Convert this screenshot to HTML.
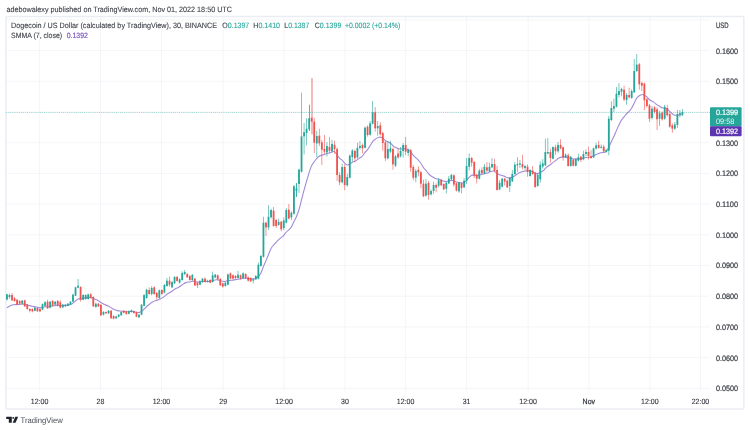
<!DOCTYPE html>
<html><head><meta charset="utf-8"><title>DOGEUSD</title>
<style>
html,body{margin:0;padding:0;background:#fff;}
body{width:750px;height:430px;overflow:hidden;font-family:"Liberation Sans",sans-serif;}
svg{display:block;font-family:"Liberation Sans",sans-serif;will-change:transform;text-rendering:geometricPrecision;}
</style></head><body>
<svg width="750" height="430" viewBox="0 0 750 430">
<rect width="750" height="430" fill="#ffffff"/>
<text x="6.4" y="11.6" font-size="7.7" fill="#3a3d45" stroke="#3a3d45" stroke-width="0.1" textLength="225.6" lengthAdjust="spacingAndGlyphs">adebowalexy published on TradingView.com, Nov 01, 2022 18:50 UTC</text>
<g stroke="#f1f2f7" stroke-width="0.75"><line x1="6" x2="709.5" y1="388.3" y2="388.3"/><line x1="6" x2="709.5" y1="357.6" y2="357.6"/><line x1="6" x2="709.5" y1="326.9" y2="326.9"/><line x1="6" x2="709.5" y1="296.2" y2="296.2"/><line x1="6" x2="709.5" y1="265.5" y2="265.5"/><line x1="6" x2="709.5" y1="234.8" y2="234.8"/><line x1="6" x2="709.5" y1="204.1" y2="204.1"/><line x1="6" x2="709.5" y1="173.4" y2="173.4"/><line x1="6" x2="709.5" y1="142.7" y2="142.7"/><line x1="6" x2="709.5" y1="112.0" y2="112.0"/><line x1="6" x2="709.5" y1="81.3" y2="81.3"/><line x1="6" x2="709.5" y1="50.6" y2="50.6"/><line x1="6" x2="709.5" y1="19.9" y2="19.9"/><line x1="39.6" x2="39.6" y1="16.5" y2="391"/><line x1="100.5" x2="100.5" y1="16.5" y2="391"/><line x1="161.5" x2="161.5" y1="16.5" y2="391"/><line x1="223.2" x2="223.2" y1="16.5" y2="391"/><line x1="284.1" x2="284.1" y1="16.5" y2="391"/><line x1="345.0" x2="345.0" y1="16.5" y2="391"/><line x1="405.6" x2="405.6" y1="16.5" y2="391"/><line x1="466.6" x2="466.6" y1="16.5" y2="391"/><line x1="528.1" x2="528.1" y1="16.5" y2="391"/><line x1="588.9" x2="588.9" y1="16.5" y2="391"/><line x1="649.9" x2="649.9" y1="16.5" y2="391"/><line x1="700.5" x2="700.5" y1="16.5" y2="391"/></g>
<rect x="6.0" y="16.5" width="737.9" height="392.45" rx="1.2" fill="none" stroke="#ebedf5" stroke-width="1.5"/>
<g font-size="7.7" fill="#3a3d45" stroke="#3a3d45" stroke-width="0.1">
<text x="11.1" y="28" textLength="206" lengthAdjust="spacingAndGlyphs">Dogecoin / US Dollar (calculated by TradingView), 30, BINANCE</text>
<text x="222.3" y="28" textLength="27" lengthAdjust="spacingAndGlyphs">O<tspan fill="#26a69a" stroke="#26a69a">0.1397</tspan></text>
<text x="253.3" y="28" textLength="26.7" lengthAdjust="spacingAndGlyphs">H<tspan fill="#26a69a" stroke="#26a69a">0.1410</tspan></text>
<text x="284.3" y="28" textLength="25" lengthAdjust="spacingAndGlyphs">L<tspan fill="#26a69a" stroke="#26a69a">0.1387</tspan></text>
<text x="314.8" y="28" textLength="26.5" lengthAdjust="spacingAndGlyphs">C<tspan fill="#26a69a" stroke="#26a69a">0.1399</tspan></text>
<text x="345" y="28" fill="#26a69a" stroke="#26a69a" textLength="55.2" lengthAdjust="spacingAndGlyphs">+0.0002 (+0.14%)</text>
<text x="11.1" y="38.4" textLength="51" lengthAdjust="spacingAndGlyphs">SMMA (7, close)</text>
<text x="66.7" y="38.4" fill="#7e57c2" stroke="#7e57c2" stroke-width="0.2" textLength="21.2" lengthAdjust="spacingAndGlyphs">0.1392</text>
</g>
<path d="M7.0,307.8 Q9.5,305.9 10.8,305.5 Q12.0,305.1 13.3,304.8 Q14.6,304.5 15.8,304.6 Q17.1,304.6 18.4,304.5 Q19.6,304.4 20.9,304.2 Q22.2,303.9 23.5,304.1 Q24.7,304.2 26.0,304.6 Q27.3,304.9 28.5,305.3 Q29.8,305.7 31.1,306.1 Q32.3,306.5 33.6,306.6 Q34.9,306.7 36.2,307.0 Q37.4,307.3 38.7,307.6 Q40.0,307.9 41.2,307.6 Q42.5,307.4 43.8,307.0 Q45.0,306.6 46.3,306.8 Q47.6,306.9 48.9,306.5 Q50.1,306.1 51.4,306.1 Q52.7,306.1 53.9,305.8 Q55.2,305.4 56.5,305.4 Q57.7,305.4 59.0,305.5 Q60.3,305.7 61.5,305.6 Q62.8,305.5 64.1,305.5 Q65.4,305.4 66.6,305.3 Q67.9,305.2 69.2,304.9 Q70.4,304.7 71.7,304.0 Q73.0,303.2 74.2,302.1 Q75.5,301.0 76.8,299.9 Q78.1,298.8 79.3,298.8 Q80.6,298.9 81.9,298.6 Q83.1,298.3 84.4,298.1 Q85.7,297.9 86.9,297.6 Q88.2,297.4 89.5,297.4 Q90.8,297.4 92.0,298.0 Q93.3,298.7 94.6,299.0 Q95.8,299.4 97.1,299.9 Q98.4,300.4 99.6,301.5 Q100.9,302.5 102.2,303.2 Q103.5,303.9 104.7,304.5 Q106.0,305.2 107.3,305.6 Q108.5,306.0 109.8,306.9 Q111.1,307.7 112.3,308.5 Q113.6,309.3 114.9,309.8 Q116.1,310.3 117.4,310.6 Q118.7,310.9 120.0,311.0 Q121.2,311.1 122.5,311.2 Q123.8,311.3 125.0,311.5 Q126.3,311.7 127.6,311.7 Q128.8,311.6 130.1,311.5 Q131.4,311.4 132.7,311.5 Q133.9,311.6 135.2,312.0 Q136.5,312.4 137.7,312.5 Q139.0,312.7 140.3,312.1 Q141.5,311.5 142.8,310.4 Q144.1,309.2 145.4,307.8 Q146.6,306.4 147.9,305.5 Q149.2,304.6 150.4,303.4 Q151.7,302.3 153.0,301.7 Q154.2,301.1 155.5,300.8 Q156.8,300.5 158.1,299.8 Q159.3,299.1 160.6,298.7 Q161.9,298.3 163.1,297.4 Q164.4,296.4 165.7,295.3 Q166.9,294.2 168.2,293.5 Q169.5,292.8 170.7,292.0 Q172.0,291.3 173.3,290.3 Q174.6,289.2 175.8,288.6 Q177.1,288.0 178.4,287.4 Q179.6,286.8 180.9,285.8 Q182.2,284.8 183.4,283.9 Q184.7,283.0 186.0,282.6 Q187.3,282.2 188.5,282.0 Q189.8,281.9 191.1,281.4 Q192.3,280.9 193.6,281.2 Q194.9,281.5 196.1,281.8 Q197.4,282.1 198.7,282.0 Q200.0,281.9 201.2,281.7 Q202.5,281.5 203.8,281.5 Q205.0,281.5 206.3,281.5 Q207.6,281.4 208.8,281.5 Q210.1,281.6 211.4,281.1 Q212.6,280.7 213.9,280.3 Q215.2,279.8 216.5,279.8 Q217.7,279.8 219.0,280.2 Q220.3,280.6 221.5,281.0 Q222.8,281.4 224.1,281.5 Q225.3,281.6 226.6,281.1 Q227.9,280.6 229.2,280.4 Q230.4,280.3 231.7,280.2 Q233.0,280.1 234.2,279.9 Q235.5,279.8 236.8,279.4 Q238.0,279.0 239.3,279.0 Q240.6,279.0 241.9,278.6 Q243.1,278.2 244.4,278.2 Q245.7,278.2 246.9,278.3 Q248.2,278.5 249.5,278.7 Q250.7,278.9 252.0,278.9 Q253.3,279.0 254.6,278.8 Q255.8,278.6 257.1,277.6 Q258.4,276.6 259.6,275.1 Q260.9,273.6 262.2,270.0 Q263.4,266.4 264.7,263.6 Q266.0,260.8 267.2,257.6 Q268.5,254.5 269.8,251.3 Q271.1,248.1 272.3,246.5 Q273.6,245.0 274.9,243.6 Q276.1,242.3 277.4,240.8 Q278.7,239.4 279.9,238.6 Q281.2,237.9 282.5,236.7 Q283.8,235.4 285.0,233.6 Q286.3,231.8 287.6,230.9 Q288.8,229.9 290.1,228.7 Q291.4,227.5 292.6,224.5 Q293.9,221.6 295.2,219.2 Q296.5,216.8 297.7,213.5 Q299.0,210.1 300.3,204.8 Q301.5,199.6 302.8,194.8 Q304.1,189.9 305.3,185.6 Q306.6,181.2 307.9,176.7 Q309.2,172.2 310.4,168.6 Q311.7,165.0 313.0,163.4 Q314.2,161.8 315.5,160.0 Q316.8,158.1 318.0,157.1 Q319.3,156.0 320.6,155.6 Q321.8,155.1 323.1,154.9 Q324.4,154.6 325.7,154.0 Q326.9,153.4 328.2,153.2 Q329.5,153.0 330.7,152.4 Q332.0,151.7 333.3,151.5 Q334.5,151.3 335.8,153.0 Q337.1,154.7 338.4,156.7 Q339.6,158.7 340.9,159.3 Q342.2,159.9 343.4,161.7 Q344.7,163.4 346.0,164.4 Q347.2,165.4 348.5,164.7 Q349.8,164.0 351.1,163.0 Q352.3,162.1 353.6,161.8 Q354.9,161.5 356.1,160.6 Q357.4,159.6 358.7,158.6 Q359.9,157.6 361.2,157.0 Q362.5,156.3 363.7,154.2 Q365.0,152.2 366.3,151.0 Q367.6,149.7 368.8,147.9 Q370.1,146.0 371.4,143.6 Q372.6,141.2 373.9,140.2 Q375.2,139.3 376.4,138.4 Q377.7,137.4 379.0,137.2 Q380.3,137.0 381.5,137.4 Q382.8,137.8 384.1,139.3 Q385.3,140.8 386.6,141.3 Q387.9,141.9 389.1,142.4 Q390.4,142.8 391.7,144.4 Q393.0,145.9 394.2,146.7 Q395.5,147.4 396.8,148.1 Q398.0,148.8 399.3,149.0 Q400.6,149.1 401.8,148.9 Q403.1,148.6 404.4,148.8 Q405.7,149.0 406.9,149.1 Q408.2,149.1 409.5,150.5 Q410.7,151.8 412.0,153.6 Q413.3,155.5 414.5,156.6 Q415.8,157.7 417.1,158.8 Q418.3,159.8 419.6,161.5 Q420.9,163.2 422.2,165.6 Q423.4,167.9 424.7,169.1 Q426.0,170.2 427.2,172.0 Q428.5,173.7 429.8,175.0 Q431.0,176.2 432.3,176.8 Q433.6,177.5 434.9,178.2 Q436.1,178.9 437.4,179.0 Q438.7,179.1 439.9,179.6 Q441.2,180.0 442.5,180.7 Q443.7,181.3 445.0,181.4 Q446.3,181.5 447.6,181.3 Q448.8,181.1 450.1,180.7 Q451.4,180.2 452.6,180.6 Q453.9,180.9 455.2,181.6 Q456.4,182.3 457.7,182.3 Q459.0,182.3 460.3,182.7 Q461.5,183.1 462.8,183.0 Q464.1,182.8 465.3,181.6 Q466.6,180.4 467.9,178.8 Q469.1,177.2 470.4,176.2 Q471.7,175.1 472.9,175.1 Q474.2,175.1 475.5,175.4 Q476.8,175.6 478.0,175.3 Q479.3,174.9 480.6,174.8 Q481.8,174.7 483.1,174.1 Q484.4,173.6 485.6,173.4 Q486.9,173.1 488.2,172.7 Q489.5,172.2 490.7,171.6 Q492.0,171.0 493.3,171.0 Q494.5,171.0 495.8,172.3 Q497.1,173.7 498.3,174.3 Q499.6,175.0 500.9,175.2 Q502.2,175.5 503.4,175.9 Q504.7,176.3 506.0,177.1 Q507.2,177.9 508.5,177.9 Q509.8,177.9 511.0,177.6 Q512.3,177.4 513.6,176.5 Q514.9,175.6 516.1,174.7 Q517.4,173.9 518.7,173.1 Q519.9,172.4 521.2,172.0 Q522.5,171.7 523.7,171.3 Q525.0,170.9 526.3,170.9 Q527.5,171.0 528.8,170.9 Q530.1,170.9 531.4,171.1 Q532.6,171.3 533.9,172.4 Q535.2,173.6 536.4,173.6 Q537.7,173.7 539.0,173.1 Q540.2,172.4 541.5,171.8 Q542.8,171.1 544.1,169.8 Q545.3,168.4 546.6,167.2 Q547.9,166.1 549.1,165.5 Q550.4,164.9 551.7,163.6 Q552.9,162.4 554.2,161.6 Q555.5,160.8 556.8,159.7 Q558.0,158.5 559.3,157.8 Q560.6,157.1 561.8,157.1 Q563.1,157.1 564.4,156.9 Q565.6,156.8 566.9,157.4 Q568.2,158.1 569.4,158.0 Q570.7,157.9 572.0,158.4 Q573.3,159.0 574.5,159.0 Q575.8,159.0 577.1,158.9 Q578.3,158.8 579.6,158.9 Q580.9,158.9 582.1,158.6 Q583.4,158.2 584.7,157.8 Q586.0,157.3 587.2,157.3 Q588.5,157.2 589.8,157.2 Q591.0,157.3 592.3,156.6 Q593.6,156.0 594.8,155.2 Q596.1,154.5 597.4,154.0 Q598.7,153.6 599.9,153.1 Q601.2,152.6 602.5,152.5 Q603.7,152.4 605.0,152.2 Q606.3,152.1 607.5,149.7 Q608.8,147.3 610.1,144.5 Q611.4,141.7 612.6,139.1 Q613.9,136.6 615.2,133.5 Q616.4,130.5 617.7,127.6 Q619.0,124.8 620.2,122.3 Q621.5,119.7 622.8,118.3 Q624.0,116.8 625.3,115.3 Q626.6,113.7 627.9,112.5 Q629.1,111.4 630.4,109.9 Q631.7,108.4 632.9,105.8 Q634.2,103.1 635.5,100.4 Q636.7,97.6 638.0,96.7 Q639.3,95.7 640.6,95.0 Q641.8,94.3 643.1,94.7 Q644.4,95.1 645.6,95.9 Q646.9,96.7 648.2,98.3 Q649.4,99.8 650.7,100.5 Q652.0,101.1 653.3,101.9 Q654.5,102.7 655.8,103.8 Q657.1,105.0 658.3,105.6 Q659.6,106.2 660.9,107.2 Q662.1,108.1 663.4,108.0 Q664.7,107.9 666.0,108.4 Q667.2,108.9 668.5,110.2 Q669.8,111.5 671.0,112.7 Q672.3,113.9 673.6,114.7 Q674.8,115.4 676.1,115.3 Q677.4,115.2 678.6,115.1 Q679.9,114.9 681.2,114.7 L682.5,114.5" fill="none" stroke="#a08ad8" stroke-width="1.1" stroke-linejoin="round"/>
<g><rect x="6.55" y="293.7" width="0.8" height="6.7" fill="#26a69a" opacity="0.75"/><rect x="9.09" y="293.7" width="0.8" height="5.1" fill="#26a69a" opacity="0.75"/><rect x="11.63" y="293.0" width="0.8" height="8.0" fill="#ef5350" opacity="0.75"/><rect x="14.17" y="297.0" width="0.8" height="4.7" fill="#ef5350" opacity="0.75"/><rect x="16.71" y="299.0" width="0.8" height="6.1" fill="#ef5350" opacity="0.75"/><rect x="19.25" y="300.1" width="0.8" height="4.3" fill="#ef5350" opacity="0.75"/><rect x="21.79" y="300.1" width="0.8" height="4.3" fill="#26a69a" opacity="0.75"/><rect x="24.33" y="299.8" width="0.8" height="7.2" fill="#ef5350" opacity="0.75"/><rect x="26.87" y="304.1" width="0.8" height="5.6" fill="#ef5350" opacity="0.75"/><rect x="29.41" y="308.1" width="0.8" height="4.3" fill="#ef5350" opacity="0.75"/><rect x="31.95" y="308.3" width="0.8" height="4.0" fill="#ef5350" opacity="0.75"/><rect x="34.48" y="307.0" width="0.8" height="4.3" fill="#26a69a" opacity="0.75"/><rect x="37.02" y="307.5" width="0.8" height="4.3" fill="#ef5350" opacity="0.75"/><rect x="39.56" y="308.3" width="0.8" height="3.7" fill="#ef5350" opacity="0.75"/><rect x="42.10" y="303.5" width="0.8" height="6.7" fill="#26a69a" opacity="0.75"/><rect x="44.64" y="301.0" width="0.8" height="5.5" fill="#26a69a" opacity="0.75"/><rect x="47.18" y="299.7" width="0.8" height="9.2" fill="#ef5350" opacity="0.75"/><rect x="49.72" y="301.0" width="0.8" height="7.3" fill="#26a69a" opacity="0.75"/><rect x="52.26" y="300.1" width="0.8" height="6.3" fill="#ef5350" opacity="0.75"/><rect x="54.80" y="301.1" width="0.8" height="4.3" fill="#26a69a" opacity="0.75"/><rect x="57.34" y="300.1" width="0.8" height="6.3" fill="#ef5350" opacity="0.75"/><rect x="59.88" y="300.3" width="0.8" height="8.0" fill="#ef5350" opacity="0.75"/><rect x="62.42" y="304.1" width="0.8" height="4.3" fill="#26a69a" opacity="0.75"/><rect x="64.96" y="304.1" width="0.8" height="2.9" fill="#26a69a" opacity="0.75"/><rect x="67.50" y="303.0" width="0.8" height="3.2" fill="#26a69a" opacity="0.75"/><rect x="70.04" y="301.1" width="0.8" height="4.0" fill="#26a69a" opacity="0.75"/><rect x="72.58" y="293.7" width="0.8" height="8.5" fill="#26a69a" opacity="0.75"/><rect x="75.12" y="286.7" width="0.8" height="9.3" fill="#26a69a" opacity="0.75"/><rect x="77.66" y="279.0" width="0.8" height="9.3" fill="#26a69a" opacity="0.75"/><rect x="80.20" y="286.3" width="0.8" height="15.3" fill="#ef5350" opacity="0.75"/><rect x="82.73" y="294.3" width="0.8" height="6.0" fill="#26a69a" opacity="0.75"/><rect x="85.27" y="294.3" width="0.8" height="5.5" fill="#26a69a" opacity="0.75"/><rect x="87.81" y="293.7" width="0.8" height="6.0" fill="#26a69a" opacity="0.75"/><rect x="90.35" y="293.0" width="0.8" height="5.3" fill="#ef5350" opacity="0.75"/><rect x="92.89" y="296.3" width="0.8" height="10.7" fill="#ef5350" opacity="0.75"/><rect x="95.43" y="302.7" width="0.8" height="4.9" fill="#26a69a" opacity="0.75"/><rect x="97.97" y="303.0" width="0.8" height="4.0" fill="#ef5350" opacity="0.75"/><rect x="100.51" y="304.0" width="0.8" height="12.0" fill="#ef5350" opacity="0.75"/><rect x="103.05" y="311.1" width="0.8" height="4.3" fill="#26a69a" opacity="0.75"/><rect x="105.59" y="311.3" width="0.8" height="2.7" fill="#ef5350" opacity="0.75"/><rect x="108.13" y="310.0" width="0.8" height="4.0" fill="#26a69a" opacity="0.75"/><rect x="110.67" y="310.0" width="0.8" height="8.8" fill="#ef5350" opacity="0.75"/><rect x="113.21" y="315.3" width="0.8" height="4.0" fill="#ef5350" opacity="0.75"/><rect x="115.75" y="315.7" width="0.8" height="3.1" fill="#26a69a" opacity="0.75"/><rect x="118.29" y="314.0" width="0.8" height="3.3" fill="#26a69a" opacity="0.75"/><rect x="120.83" y="311.3" width="0.8" height="4.5" fill="#26a69a" opacity="0.75"/><rect x="123.37" y="310.0" width="0.8" height="3.5" fill="#ef5350" opacity="0.75"/><rect x="125.91" y="310.8" width="0.8" height="4.0" fill="#ef5350" opacity="0.75"/><rect x="128.45" y="310.4" width="0.8" height="3.9" fill="#26a69a" opacity="0.75"/><rect x="130.99" y="309.5" width="0.8" height="3.2" fill="#26a69a" opacity="0.75"/><rect x="133.52" y="310.4" width="0.8" height="3.3" fill="#ef5350" opacity="0.75"/><rect x="136.06" y="311.6" width="0.8" height="5.7" fill="#ef5350" opacity="0.75"/><rect x="138.60" y="313.7" width="0.8" height="4.3" fill="#26a69a" opacity="0.75"/><rect x="141.14" y="304.0" width="0.8" height="11.3" fill="#26a69a" opacity="0.75"/><rect x="143.68" y="294.0" width="0.8" height="12.3" fill="#26a69a" opacity="0.75"/><rect x="146.22" y="288.7" width="0.8" height="10.0" fill="#26a69a" opacity="0.75"/><rect x="148.76" y="287.3" width="0.8" height="7.5" fill="#ef5350" opacity="0.75"/><rect x="151.30" y="286.0" width="0.8" height="9.3" fill="#26a69a" opacity="0.75"/><rect x="153.84" y="286.3" width="0.8" height="8.5" fill="#ef5350" opacity="0.75"/><rect x="156.38" y="292.0" width="0.8" height="7.6" fill="#ef5350" opacity="0.75"/><rect x="158.92" y="289.5" width="0.8" height="9.2" fill="#26a69a" opacity="0.75"/><rect x="161.46" y="289.2" width="0.8" height="5.6" fill="#ef5350" opacity="0.75"/><rect x="164.00" y="284.0" width="0.8" height="9.3" fill="#26a69a" opacity="0.75"/><rect x="166.54" y="278.0" width="0.8" height="8.8" fill="#26a69a" opacity="0.75"/><rect x="169.08" y="276.7" width="0.8" height="10.0" fill="#ef5350" opacity="0.75"/><rect x="171.62" y="280.9" width="0.8" height="7.2" fill="#26a69a" opacity="0.75"/><rect x="174.16" y="276.1" width="0.8" height="7.9" fill="#26a69a" opacity="0.75"/><rect x="176.70" y="276.1" width="0.8" height="5.6" fill="#ef5350" opacity="0.75"/><rect x="179.24" y="278.3" width="0.8" height="5.3" fill="#26a69a" opacity="0.75"/><rect x="181.78" y="271.3" width="0.8" height="9.3" fill="#26a69a" opacity="0.75"/><rect x="184.31" y="270.0" width="0.8" height="5.3" fill="#26a69a" opacity="0.75"/><rect x="186.85" y="273.1" width="0.8" height="4.9" fill="#ef5350" opacity="0.75"/><rect x="189.39" y="274.9" width="0.8" height="5.7" fill="#ef5350" opacity="0.75"/><rect x="191.93" y="274.0" width="0.8" height="6.7" fill="#26a69a" opacity="0.75"/><rect x="194.47" y="277.9" width="0.8" height="8.1" fill="#ef5350" opacity="0.75"/><rect x="197.01" y="281.9" width="0.8" height="6.1" fill="#ef5350" opacity="0.75"/><rect x="199.55" y="280.3" width="0.8" height="5.1" fill="#26a69a" opacity="0.75"/><rect x="202.09" y="277.9" width="0.8" height="4.8" fill="#26a69a" opacity="0.75"/><rect x="204.63" y="277.3" width="0.8" height="5.3" fill="#ef5350" opacity="0.75"/><rect x="207.17" y="279.7" width="0.8" height="2.9" fill="#26a69a" opacity="0.75"/><rect x="209.71" y="279.2" width="0.8" height="4.1" fill="#ef5350" opacity="0.75"/><rect x="212.25" y="271.6" width="0.8" height="11.1" fill="#26a69a" opacity="0.75"/><rect x="214.79" y="273.9" width="0.8" height="4.3" fill="#26a69a" opacity="0.75"/><rect x="217.33" y="274.4" width="0.8" height="5.6" fill="#ef5350" opacity="0.75"/><rect x="219.87" y="278.1" width="0.8" height="7.9" fill="#ef5350" opacity="0.75"/><rect x="222.41" y="282.7" width="0.8" height="4.8" fill="#ef5350" opacity="0.75"/><rect x="224.95" y="281.9" width="0.8" height="4.8" fill="#26a69a" opacity="0.75"/><rect x="227.49" y="273.6" width="0.8" height="11.7" fill="#26a69a" opacity="0.75"/><rect x="230.03" y="272.5" width="0.8" height="6.8" fill="#ef5350" opacity="0.75"/><rect x="232.57" y="274.4" width="0.8" height="4.9" fill="#ef5350" opacity="0.75"/><rect x="235.10" y="275.2" width="0.8" height="3.7" fill="#ef5350" opacity="0.75"/><rect x="237.64" y="270.9" width="0.8" height="7.7" fill="#26a69a" opacity="0.75"/><rect x="240.18" y="274.4" width="0.8" height="5.1" fill="#ef5350" opacity="0.75"/><rect x="242.72" y="272.4" width="0.8" height="6.3" fill="#26a69a" opacity="0.75"/><rect x="245.26" y="273.1" width="0.8" height="5.9" fill="#ef5350" opacity="0.75"/><rect x="247.80" y="276.5" width="0.8" height="5.1" fill="#ef5350" opacity="0.75"/><rect x="250.34" y="277.3" width="0.8" height="4.8" fill="#ef5350" opacity="0.75"/><rect x="252.88" y="278.4" width="0.8" height="4.9" fill="#26a69a" opacity="0.75"/><rect x="255.42" y="274.9" width="0.8" height="5.1" fill="#26a69a" opacity="0.75"/><rect x="257.96" y="262.7" width="0.8" height="16.7" fill="#26a69a" opacity="0.75"/><rect x="260.50" y="254.9" width="0.8" height="11.7" fill="#26a69a" opacity="0.75"/><rect x="263.04" y="216.7" width="0.8" height="40.8" fill="#26a69a" opacity="0.75"/><rect x="265.58" y="221.7" width="0.8" height="14.3" fill="#ef5350" opacity="0.75"/><rect x="268.12" y="205.3" width="0.8" height="24.7" fill="#26a69a" opacity="0.75"/><rect x="270.66" y="208.7" width="0.8" height="10.0" fill="#26a69a" opacity="0.75"/><rect x="273.20" y="207.1" width="0.8" height="19.7" fill="#ef5350" opacity="0.75"/><rect x="275.74" y="219.1" width="0.8" height="8.9" fill="#ef5350" opacity="0.75"/><rect x="278.28" y="218.7" width="0.8" height="7.1" fill="#26a69a" opacity="0.75"/><rect x="280.82" y="220.9" width="0.8" height="10.4" fill="#ef5350" opacity="0.75"/><rect x="283.36" y="217.3" width="0.8" height="12.7" fill="#26a69a" opacity="0.75"/><rect x="285.89" y="208.0" width="0.8" height="15.3" fill="#26a69a" opacity="0.75"/><rect x="288.43" y="204.0" width="0.8" height="15.3" fill="#ef5350" opacity="0.75"/><rect x="290.97" y="211.3" width="0.8" height="8.7" fill="#26a69a" opacity="0.75"/><rect x="293.51" y="185.0" width="0.8" height="29.5" fill="#26a69a" opacity="0.75"/><rect x="296.00" y="183.0" width="0.9" height="13.9" fill="#26a69a" opacity="1.0"/><rect x="298.59" y="168.5" width="0.8" height="24.5" fill="#26a69a" opacity="0.75"/><rect x="301.13" y="92.7" width="0.8" height="79.8" fill="#26a69a" opacity="0.75"/><rect x="303.67" y="123.1" width="0.8" height="31.4" fill="#26a69a" opacity="0.75"/><rect x="306.21" y="118.3" width="0.8" height="27.2" fill="#26a69a" opacity="0.75"/><rect x="309.10" y="104.7" width="0.8" height="26.3" fill="#26a69a" opacity="1.0"/><rect x="311.04" y="78.0" width="1.9" height="56.3" fill="#ef5350" opacity="0.42"/><rect x="313.83" y="118.3" width="0.8" height="34.7" fill="#ef5350" opacity="0.75"/><rect x="316.37" y="130.8" width="0.8" height="26.2" fill="#26a69a" opacity="0.75"/><rect x="318.91" y="128.7" width="0.8" height="17.3" fill="#ef5350" opacity="0.75"/><rect x="321.45" y="140.0" width="0.8" height="25.0" fill="#ef5350" opacity="0.75"/><rect x="323.99" y="135.0" width="0.8" height="19.0" fill="#ef5350" opacity="0.75"/><rect x="326.53" y="142.0" width="0.8" height="14.6" fill="#26a69a" opacity="0.75"/><rect x="329.07" y="136.8" width="0.8" height="16.2" fill="#ef5350" opacity="0.75"/><rect x="331.61" y="139.9" width="0.8" height="13.1" fill="#26a69a" opacity="0.75"/><rect x="334.15" y="140.6" width="0.8" height="13.2" fill="#ef5350" opacity="0.75"/><rect x="336.69" y="147.5" width="0.8" height="33.5" fill="#ef5350" opacity="0.75"/><rect x="339.22" y="172.3" width="0.8" height="12.7" fill="#ef5350" opacity="0.75"/><rect x="341.76" y="163.7" width="0.8" height="19.8" fill="#26a69a" opacity="0.75"/><rect x="344.30" y="164.3" width="0.8" height="26.0" fill="#ef5350" opacity="0.75"/><rect x="346.84" y="173.7" width="0.8" height="12.8" fill="#26a69a" opacity="0.75"/><rect x="349.38" y="154.3" width="0.8" height="24.2" fill="#26a69a" opacity="0.75"/><rect x="351.92" y="149.0" width="0.8" height="12.7" fill="#26a69a" opacity="0.75"/><rect x="354.46" y="149.5" width="0.8" height="12.8" fill="#ef5350" opacity="0.75"/><rect x="357.00" y="142.6" width="0.8" height="15.9" fill="#26a69a" opacity="0.75"/><rect x="359.54" y="141.0" width="0.8" height="8.5" fill="#26a69a" opacity="0.75"/><rect x="362.08" y="143.5" width="0.8" height="9.8" fill="#ef5350" opacity="0.75"/><rect x="364.62" y="126.5" width="0.8" height="22.0" fill="#26a69a" opacity="0.75"/><rect x="367.16" y="125.5" width="0.8" height="11.0" fill="#ef5350" opacity="0.75"/><rect x="369.70" y="121.0" width="0.8" height="14.7" fill="#26a69a" opacity="0.75"/><rect x="372.24" y="101.0" width="0.8" height="23.5" fill="#26a69a" opacity="0.75"/><rect x="374.78" y="107.0" width="0.8" height="24.7" fill="#ef5350" opacity="0.75"/><rect x="377.32" y="121.0" width="0.8" height="14.7" fill="#26a69a" opacity="0.75"/><rect x="379.86" y="122.3" width="0.8" height="13.2" fill="#ef5350" opacity="0.75"/><rect x="382.40" y="131.7" width="0.8" height="19.0" fill="#ef5350" opacity="0.75"/><rect x="384.94" y="141.0" width="0.8" height="20.0" fill="#ef5350" opacity="0.75"/><rect x="387.47" y="141.0" width="0.8" height="18.5" fill="#26a69a" opacity="0.75"/><rect x="390.01" y="141.0" width="0.8" height="12.0" fill="#26a69a" opacity="0.75"/><rect x="392.55" y="147.5" width="0.8" height="22.2" fill="#ef5350" opacity="0.75"/><rect x="395.09" y="155.0" width="0.8" height="12.0" fill="#26a69a" opacity="0.75"/><rect x="397.63" y="148.3" width="0.8" height="10.2" fill="#ef5350" opacity="0.75"/><rect x="400.17" y="147.0" width="0.8" height="10.5" fill="#26a69a" opacity="0.75"/><rect x="402.71" y="143.0" width="0.8" height="14.7" fill="#26a69a" opacity="0.75"/><rect x="405.25" y="137.0" width="0.8" height="18.0" fill="#ef5350" opacity="0.75"/><rect x="407.79" y="148.5" width="0.8" height="7.8" fill="#26a69a" opacity="0.75"/><rect x="410.33" y="149.0" width="0.8" height="22.7" fill="#ef5350" opacity="0.75"/><rect x="412.87" y="165.0" width="0.8" height="15.3" fill="#ef5350" opacity="0.75"/><rect x="415.41" y="169.0" width="0.8" height="13.3" fill="#26a69a" opacity="0.75"/><rect x="417.95" y="166.3" width="0.8" height="10.0" fill="#ef5350" opacity="0.75"/><rect x="420.49" y="171.0" width="0.8" height="17.3" fill="#ef5350" opacity="0.75"/><rect x="423.03" y="179.7" width="0.8" height="17.3" fill="#ef5350" opacity="0.75"/><rect x="425.57" y="179.0" width="0.8" height="17.5" fill="#26a69a" opacity="0.75"/><rect x="428.11" y="181.0" width="0.8" height="18.7" fill="#ef5350" opacity="0.75"/><rect x="430.65" y="189.5" width="0.8" height="6.0" fill="#26a69a" opacity="0.75"/><rect x="433.19" y="181.7" width="0.8" height="12.0" fill="#26a69a" opacity="0.75"/><rect x="435.73" y="183.5" width="0.8" height="8.8" fill="#ef5350" opacity="0.75"/><rect x="438.26" y="178.0" width="0.8" height="9.4" fill="#26a69a" opacity="0.75"/><rect x="440.80" y="178.9" width="0.8" height="7.2" fill="#ef5350" opacity="0.75"/><rect x="443.34" y="183.2" width="0.8" height="6.9" fill="#ef5350" opacity="0.75"/><rect x="445.88" y="181.9" width="0.8" height="11.5" fill="#26a69a" opacity="0.75"/><rect x="448.42" y="176.0" width="0.8" height="8.0" fill="#26a69a" opacity="0.75"/><rect x="450.96" y="174.1" width="0.8" height="5.9" fill="#26a69a" opacity="0.75"/><rect x="453.50" y="174.4" width="0.8" height="12.3" fill="#ef5350" opacity="0.75"/><rect x="456.04" y="182.4" width="0.8" height="9.1" fill="#ef5350" opacity="0.75"/><rect x="458.58" y="181.9" width="0.8" height="10.8" fill="#26a69a" opacity="0.75"/><rect x="461.12" y="182.4" width="0.8" height="10.9" fill="#ef5350" opacity="0.75"/><rect x="463.66" y="178.0" width="0.8" height="10.0" fill="#26a69a" opacity="0.75"/><rect x="466.20" y="158.0" width="0.8" height="26.0" fill="#26a69a" opacity="0.75"/><rect x="468.74" y="153.3" width="0.8" height="17.3" fill="#26a69a" opacity="0.75"/><rect x="471.28" y="157.1" width="0.8" height="9.6" fill="#ef5350" opacity="0.75"/><rect x="473.82" y="161.1" width="0.8" height="16.9" fill="#ef5350" opacity="0.75"/><rect x="476.36" y="173.9" width="0.8" height="9.5" fill="#ef5350" opacity="0.75"/><rect x="478.90" y="168.7" width="0.8" height="10.8" fill="#26a69a" opacity="0.75"/><rect x="481.44" y="167.3" width="0.8" height="6.8" fill="#ef5350" opacity="0.75"/><rect x="483.98" y="164.0" width="0.8" height="10.1" fill="#26a69a" opacity="0.75"/><rect x="486.52" y="162.0" width="0.8" height="10.0" fill="#ef5350" opacity="0.75"/><rect x="489.06" y="162.7" width="0.8" height="9.3" fill="#26a69a" opacity="0.75"/><rect x="491.59" y="158.0" width="0.8" height="10.0" fill="#26a69a" opacity="0.75"/><rect x="494.13" y="158.7" width="0.8" height="12.8" fill="#ef5350" opacity="0.75"/><rect x="496.67" y="166.0" width="0.8" height="24.7" fill="#ef5350" opacity="0.75"/><rect x="499.21" y="180.0" width="0.8" height="10.1" fill="#26a69a" opacity="0.75"/><rect x="501.75" y="177.9" width="0.8" height="9.6" fill="#26a69a" opacity="0.75"/><rect x="504.29" y="177.9" width="0.8" height="7.5" fill="#ef5350" opacity="0.75"/><rect x="506.83" y="179.7" width="0.8" height="8.3" fill="#ef5350" opacity="0.75"/><rect x="509.37" y="177.1" width="0.8" height="14.9" fill="#26a69a" opacity="0.75"/><rect x="511.91" y="170.0" width="0.8" height="12.1" fill="#26a69a" opacity="0.75"/><rect x="514.45" y="162.0" width="0.8" height="12.7" fill="#26a69a" opacity="0.75"/><rect x="516.99" y="157.1" width="0.8" height="14.9" fill="#26a69a" opacity="0.75"/><rect x="519.53" y="160.0" width="0.8" height="8.0" fill="#26a69a" opacity="0.75"/><rect x="522.07" y="154.7" width="0.8" height="14.7" fill="#ef5350" opacity="0.75"/><rect x="524.61" y="165.1" width="0.8" height="4.9" fill="#26a69a" opacity="0.75"/><rect x="527.15" y="164.3" width="0.8" height="12.4" fill="#ef5350" opacity="0.75"/><rect x="529.69" y="168.9" width="0.8" height="7.7" fill="#26a69a" opacity="0.75"/><rect x="532.23" y="166.0" width="0.8" height="8.8" fill="#ef5350" opacity="0.75"/><rect x="534.77" y="171.9" width="0.8" height="15.7" fill="#ef5350" opacity="0.75"/><rect x="537.31" y="173.7" width="0.8" height="13.1" fill="#26a69a" opacity="0.75"/><rect x="539.85" y="161.3" width="0.8" height="21.3" fill="#26a69a" opacity="0.75"/><rect x="542.38" y="159.1" width="0.8" height="9.6" fill="#26a69a" opacity="0.75"/><rect x="544.92" y="138.7" width="0.8" height="27.3" fill="#26a69a" opacity="0.75"/><rect x="547.46" y="138.0" width="0.8" height="16.3" fill="#26a69a" opacity="0.75"/><rect x="550.00" y="148.7" width="0.8" height="14.0" fill="#ef5350" opacity="0.75"/><rect x="552.54" y="146.3" width="0.8" height="13.1" fill="#26a69a" opacity="0.75"/><rect x="555.08" y="144.7" width="0.8" height="10.0" fill="#ef5350" opacity="0.75"/><rect x="557.62" y="142.0" width="0.8" height="10.7" fill="#26a69a" opacity="0.75"/><rect x="560.16" y="139.3" width="0.8" height="9.9" fill="#ef5350" opacity="0.75"/><rect x="562.70" y="146.5" width="0.8" height="14.1" fill="#ef5350" opacity="0.75"/><rect x="565.24" y="153.3" width="0.8" height="4.7" fill="#26a69a" opacity="0.75"/><rect x="567.78" y="153.3" width="0.8" height="13.3" fill="#ef5350" opacity="0.75"/><rect x="570.32" y="155.9" width="0.8" height="10.8" fill="#26a69a" opacity="0.75"/><rect x="572.86" y="158.8" width="0.8" height="7.6" fill="#ef5350" opacity="0.75"/><rect x="575.40" y="158.3" width="0.8" height="8.1" fill="#26a69a" opacity="0.75"/><rect x="577.94" y="153.7" width="0.8" height="7.7" fill="#26a69a" opacity="0.75"/><rect x="580.48" y="155.9" width="0.8" height="6.1" fill="#ef5350" opacity="0.75"/><rect x="583.02" y="150.7" width="0.8" height="9.5" fill="#26a69a" opacity="0.75"/><rect x="585.56" y="149.3" width="0.8" height="6.7" fill="#26a69a" opacity="0.75"/><rect x="588.10" y="146.7" width="0.8" height="12.7" fill="#ef5350" opacity="0.75"/><rect x="590.63" y="150.0" width="0.8" height="8.8" fill="#ef5350" opacity="0.75"/><rect x="593.17" y="147.6" width="0.8" height="10.4" fill="#26a69a" opacity="0.75"/><rect x="595.71" y="142.7" width="0.8" height="6.8" fill="#26a69a" opacity="0.75"/><rect x="598.25" y="140.7" width="0.8" height="8.0" fill="#ef5350" opacity="0.75"/><rect x="600.79" y="144.4" width="0.8" height="4.3" fill="#26a69a" opacity="0.75"/><rect x="603.33" y="144.9" width="0.8" height="7.2" fill="#ef5350" opacity="0.75"/><rect x="605.87" y="148.9" width="0.8" height="3.7" fill="#26a69a" opacity="0.75"/><rect x="608.41" y="116.0" width="0.8" height="39.3" fill="#26a69a" opacity="0.75"/><rect x="610.95" y="101.3" width="0.8" height="19.7" fill="#26a69a" opacity="0.75"/><rect x="613.49" y="98.7" width="0.8" height="13.3" fill="#26a69a" opacity="0.75"/><rect x="616.03" y="87.0" width="0.8" height="20.5" fill="#26a69a" opacity="0.75"/><rect x="618.57" y="83.0" width="0.8" height="14.5" fill="#26a69a" opacity="0.75"/><rect x="621.11" y="87.7" width="0.8" height="8.6" fill="#26a69a" opacity="0.75"/><rect x="623.65" y="85.7" width="0.8" height="15.6" fill="#ef5350" opacity="0.75"/><rect x="626.19" y="93.0" width="0.8" height="11.7" fill="#26a69a" opacity="0.75"/><rect x="628.73" y="87.7" width="0.8" height="10.8" fill="#ef5350" opacity="0.75"/><rect x="631.27" y="89.5" width="0.8" height="9.3" fill="#26a69a" opacity="0.75"/><rect x="633.81" y="59.0" width="0.8" height="34.0" fill="#26a69a" opacity="0.75"/><rect x="636.35" y="54.0" width="0.8" height="18.0" fill="#26a69a" opacity="0.75"/><rect x="638.89" y="63.0" width="0.8" height="26.7" fill="#ef5350" opacity="0.75"/><rect x="641.43" y="81.5" width="0.8" height="9.5" fill="#ef5350" opacity="0.75"/><rect x="643.96" y="82.5" width="0.8" height="27.5" fill="#ef5350" opacity="0.75"/><rect x="646.50" y="98.0" width="0.8" height="9.5" fill="#ef5350" opacity="0.75"/><rect x="649.04" y="104.0" width="0.8" height="18.0" fill="#ef5350" opacity="0.75"/><rect x="651.58" y="106.0" width="0.8" height="13.5" fill="#26a69a" opacity="0.75"/><rect x="654.12" y="106.0" width="0.8" height="7.5" fill="#ef5350" opacity="0.75"/><rect x="656.66" y="107.3" width="0.8" height="22.7" fill="#ef5350" opacity="0.75"/><rect x="659.20" y="110.7" width="0.8" height="15.3" fill="#26a69a" opacity="0.75"/><rect x="661.74" y="111.3" width="0.8" height="9.2" fill="#ef5350" opacity="0.75"/><rect x="664.28" y="104.7" width="0.8" height="15.0" fill="#26a69a" opacity="0.75"/><rect x="666.82" y="104.7" width="0.8" height="11.8" fill="#ef5350" opacity="0.75"/><rect x="669.36" y="112.7" width="0.8" height="15.0" fill="#ef5350" opacity="0.75"/><rect x="671.90" y="123.3" width="0.8" height="9.4" fill="#ef5350" opacity="0.75"/><rect x="674.44" y="122.0" width="0.8" height="7.7" fill="#26a69a" opacity="0.75"/><rect x="676.98" y="110.0" width="0.8" height="18.0" fill="#26a69a" opacity="0.75"/><rect x="679.52" y="110.0" width="0.8" height="7.3" fill="#26a69a" opacity="0.75"/><rect x="682.06" y="109.0" width="0.8" height="7.0" fill="#26a69a" opacity="0.75"/></g>
<g><rect x="6.05" y="294.3" width="1.8" height="5.3" fill="#26a69a"/><rect x="8.59" y="295.0" width="1.8" height="2.0" fill="#26a69a"/><rect x="11.13" y="295.0" width="1.8" height="5.3" fill="#ef5350"/><rect x="13.67" y="298.3" width="1.8" height="2.7" fill="#ef5350"/><rect x="16.21" y="299.7" width="1.8" height="4.9" fill="#ef5350"/><rect x="18.75" y="301.0" width="1.8" height="2.7" fill="#ef5350"/><rect x="21.29" y="300.6" width="1.8" height="3.1" fill="#26a69a"/><rect x="23.83" y="300.3" width="1.8" height="6.0" fill="#ef5350"/><rect x="26.37" y="304.6" width="1.8" height="4.4" fill="#ef5350"/><rect x="28.91" y="309.0" width="1.8" height="1.7" fill="#ef5350"/><rect x="31.45" y="309.0" width="1.8" height="2.3" fill="#ef5350"/><rect x="33.98" y="307.7" width="1.8" height="3.1" fill="#26a69a"/><rect x="36.52" y="308.1" width="1.8" height="3.2" fill="#ef5350"/><rect x="39.06" y="309.0" width="1.8" height="2.3" fill="#ef5350"/><rect x="41.60" y="304.1" width="1.8" height="5.6" fill="#26a69a"/><rect x="44.14" y="302.3" width="1.8" height="3.6" fill="#26a69a"/><rect x="46.68" y="301.7" width="1.8" height="6.7" fill="#ef5350"/><rect x="49.22" y="301.7" width="1.8" height="6.0" fill="#26a69a"/><rect x="51.76" y="301.0" width="1.8" height="4.7" fill="#ef5350"/><rect x="54.30" y="301.7" width="1.8" height="2.9" fill="#26a69a"/><rect x="56.84" y="301.0" width="1.8" height="4.0" fill="#ef5350"/><rect x="59.38" y="302.3" width="1.8" height="5.3" fill="#ef5350"/><rect x="61.92" y="304.6" width="1.8" height="2.7" fill="#26a69a"/><rect x="64.46" y="304.6" width="1.8" height="1.7" fill="#26a69a"/><rect x="67.00" y="303.7" width="1.8" height="2.0" fill="#26a69a"/><rect x="69.54" y="301.7" width="1.8" height="2.9" fill="#26a69a"/><rect x="72.08" y="294.7" width="1.8" height="6.9" fill="#26a69a"/><rect x="74.62" y="287.3" width="1.8" height="8.4" fill="#26a69a"/><rect x="77.16" y="285.7" width="1.8" height="2.0" fill="#26a69a"/><rect x="79.70" y="287.0" width="1.8" height="12.7" fill="#ef5350"/><rect x="82.23" y="295.0" width="1.8" height="4.7" fill="#26a69a"/><rect x="84.77" y="295.0" width="1.8" height="4.0" fill="#26a69a"/><rect x="87.31" y="294.3" width="1.8" height="4.7" fill="#26a69a"/><rect x="89.85" y="294.3" width="1.8" height="3.3" fill="#ef5350"/><rect x="92.39" y="297.0" width="1.8" height="9.3" fill="#ef5350"/><rect x="94.93" y="303.7" width="1.8" height="3.3" fill="#26a69a"/><rect x="97.47" y="303.7" width="1.8" height="2.7" fill="#ef5350"/><rect x="100.01" y="304.9" width="1.8" height="10.4" fill="#ef5350"/><rect x="102.55" y="312.0" width="1.8" height="2.7" fill="#26a69a"/><rect x="105.09" y="312.0" width="1.8" height="1.2" fill="#ef5350"/><rect x="107.63" y="310.7" width="1.8" height="2.7" fill="#26a69a"/><rect x="110.17" y="310.7" width="1.8" height="7.6" fill="#ef5350"/><rect x="112.71" y="316.0" width="1.8" height="2.7" fill="#ef5350"/><rect x="115.25" y="316.4" width="1.8" height="1.9" fill="#26a69a"/><rect x="117.79" y="314.7" width="1.8" height="2.0" fill="#26a69a"/><rect x="120.33" y="312.0" width="1.8" height="3.3" fill="#26a69a"/><rect x="122.87" y="310.7" width="1.8" height="2.0" fill="#ef5350"/><rect x="125.41" y="311.6" width="1.8" height="2.4" fill="#ef5350"/><rect x="127.95" y="311.1" width="1.8" height="2.7" fill="#26a69a"/><rect x="130.49" y="310.3" width="1.8" height="1.7" fill="#26a69a"/><rect x="133.02" y="311.1" width="1.8" height="1.9" fill="#ef5350"/><rect x="135.56" y="312.4" width="1.8" height="4.3" fill="#ef5350"/><rect x="138.10" y="314.7" width="1.8" height="2.7" fill="#26a69a"/><rect x="140.64" y="304.7" width="1.8" height="10.0" fill="#26a69a"/><rect x="143.18" y="295.1" width="1.8" height="10.7" fill="#26a69a"/><rect x="145.72" y="289.7" width="1.8" height="8.3" fill="#26a69a"/><rect x="148.26" y="290.0" width="1.8" height="4.0" fill="#ef5350"/><rect x="150.80" y="288.0" width="1.8" height="6.0" fill="#26a69a"/><rect x="153.34" y="287.3" width="1.8" height="6.7" fill="#ef5350"/><rect x="155.88" y="292.9" width="1.8" height="4.4" fill="#ef5350"/><rect x="158.42" y="290.3" width="1.8" height="7.7" fill="#26a69a"/><rect x="160.96" y="290.0" width="1.8" height="4.0" fill="#ef5350"/><rect x="163.50" y="284.9" width="1.8" height="7.7" fill="#26a69a"/><rect x="166.04" y="280.7" width="1.8" height="5.3" fill="#26a69a"/><rect x="168.58" y="280.7" width="1.8" height="4.0" fill="#ef5350"/><rect x="171.12" y="282.0" width="1.8" height="5.3" fill="#26a69a"/><rect x="173.66" y="276.9" width="1.8" height="6.4" fill="#26a69a"/><rect x="176.20" y="276.9" width="1.8" height="4.0" fill="#ef5350"/><rect x="178.74" y="279.3" width="1.8" height="3.3" fill="#26a69a"/><rect x="181.28" y="272.9" width="1.8" height="7.1" fill="#26a69a"/><rect x="183.81" y="272.0" width="1.8" height="2.0" fill="#26a69a"/><rect x="186.35" y="274.0" width="1.8" height="3.3" fill="#ef5350"/><rect x="188.89" y="276.0" width="1.8" height="4.0" fill="#ef5350"/><rect x="191.43" y="274.9" width="1.8" height="5.1" fill="#26a69a"/><rect x="193.97" y="278.7" width="1.8" height="6.7" fill="#ef5350"/><rect x="196.51" y="282.7" width="1.8" height="2.7" fill="#ef5350"/><rect x="199.05" y="281.1" width="1.8" height="3.6" fill="#26a69a"/><rect x="201.59" y="278.7" width="1.8" height="3.3" fill="#26a69a"/><rect x="204.13" y="278.7" width="1.8" height="3.3" fill="#ef5350"/><rect x="206.67" y="280.7" width="1.8" height="1.3" fill="#26a69a"/><rect x="209.21" y="280.0" width="1.8" height="2.7" fill="#ef5350"/><rect x="211.75" y="275.3" width="1.8" height="6.7" fill="#26a69a"/><rect x="214.29" y="274.7" width="1.8" height="2.7" fill="#26a69a"/><rect x="216.83" y="275.3" width="1.8" height="4.0" fill="#ef5350"/><rect x="219.37" y="278.9" width="1.8" height="6.4" fill="#ef5350"/><rect x="221.91" y="283.3" width="1.8" height="3.3" fill="#ef5350"/><rect x="224.45" y="282.7" width="1.8" height="3.3" fill="#26a69a"/><rect x="226.99" y="274.4" width="1.8" height="10.3" fill="#26a69a"/><rect x="229.53" y="273.3" width="1.8" height="5.3" fill="#ef5350"/><rect x="232.07" y="275.3" width="1.8" height="3.3" fill="#ef5350"/><rect x="234.60" y="276.0" width="1.8" height="2.0" fill="#ef5350"/><rect x="237.14" y="274.7" width="1.8" height="3.3" fill="#26a69a"/><rect x="239.68" y="275.3" width="1.8" height="3.3" fill="#ef5350"/><rect x="242.22" y="273.3" width="1.8" height="4.7" fill="#26a69a"/><rect x="244.76" y="274.0" width="1.8" height="4.0" fill="#ef5350"/><rect x="247.30" y="277.3" width="1.8" height="3.3" fill="#ef5350"/><rect x="249.84" y="278.0" width="1.8" height="3.3" fill="#ef5350"/><rect x="252.38" y="279.3" width="1.8" height="1.3" fill="#26a69a"/><rect x="254.92" y="276.0" width="1.8" height="3.3" fill="#26a69a"/><rect x="257.46" y="264.7" width="1.8" height="14.0" fill="#26a69a"/><rect x="260.00" y="256.0" width="1.8" height="10.0" fill="#26a69a"/><rect x="262.54" y="222.7" width="1.8" height="34.0" fill="#26a69a"/><rect x="265.08" y="222.7" width="1.8" height="4.7" fill="#ef5350"/><rect x="267.62" y="216.7" width="1.8" height="10.7" fill="#26a69a"/><rect x="270.16" y="210.0" width="1.8" height="7.3" fill="#26a69a"/><rect x="272.70" y="210.7" width="1.8" height="15.3" fill="#ef5350"/><rect x="275.24" y="220.0" width="1.8" height="6.0" fill="#ef5350"/><rect x="277.78" y="222.0" width="1.8" height="2.9" fill="#26a69a"/><rect x="280.32" y="221.7" width="1.8" height="7.6" fill="#ef5350"/><rect x="282.86" y="220.4" width="1.8" height="7.6" fill="#26a69a"/><rect x="285.39" y="210.0" width="1.8" height="12.7" fill="#26a69a"/><rect x="287.93" y="209.7" width="1.8" height="8.9" fill="#ef5350"/><rect x="290.47" y="212.7" width="1.8" height="4.7" fill="#26a69a"/><rect x="293.01" y="186.3" width="1.8" height="27.4" fill="#26a69a"/><rect x="295.55" y="188.3" width="1.8" height="2.7" fill="#26a69a"/><rect x="298.09" y="169.7" width="1.8" height="14.3" fill="#26a69a"/><rect x="300.63" y="136.4" width="1.8" height="35.3" fill="#26a69a"/><rect x="303.17" y="132.2" width="1.8" height="4.2" fill="#26a69a"/><rect x="305.71" y="128.7" width="1.8" height="4.3" fill="#26a69a"/><rect x="308.25" y="118.3" width="1.8" height="11.1" fill="#26a69a"/><rect x="310.79" y="117.6" width="1.8" height="4.1" fill="#ef5350"/><rect x="313.33" y="121.7" width="1.8" height="21.0" fill="#ef5350"/><rect x="315.87" y="136.0" width="1.8" height="7.4" fill="#26a69a"/><rect x="318.41" y="135.7" width="1.8" height="7.7" fill="#ef5350"/><rect x="320.95" y="142.4" width="1.8" height="7.3" fill="#ef5350"/><rect x="323.49" y="149.0" width="1.8" height="2.7" fill="#ef5350"/><rect x="326.03" y="146.0" width="1.8" height="6.4" fill="#26a69a"/><rect x="328.57" y="146.9" width="1.8" height="3.9" fill="#ef5350"/><rect x="331.11" y="144.0" width="1.8" height="7.0" fill="#26a69a"/><rect x="333.65" y="144.8" width="1.8" height="4.2" fill="#ef5350"/><rect x="336.19" y="149.0" width="1.8" height="26.0" fill="#ef5350"/><rect x="338.72" y="175.0" width="1.8" height="7.3" fill="#ef5350"/><rect x="341.26" y="167.0" width="1.8" height="15.3" fill="#26a69a"/><rect x="343.80" y="167.0" width="1.8" height="18.0" fill="#ef5350"/><rect x="346.34" y="177.0" width="1.8" height="8.4" fill="#26a69a"/><rect x="348.88" y="155.7" width="1.8" height="22.0" fill="#26a69a"/><rect x="351.42" y="150.5" width="1.8" height="6.5" fill="#26a69a"/><rect x="353.96" y="151.0" width="1.8" height="7.3" fill="#ef5350"/><rect x="356.50" y="147.8" width="1.8" height="9.6" fill="#26a69a"/><rect x="359.04" y="145.9" width="1.8" height="2.0" fill="#26a69a"/><rect x="361.58" y="145.0" width="1.8" height="3.3" fill="#ef5350"/><rect x="364.12" y="127.7" width="1.8" height="20.1" fill="#26a69a"/><rect x="366.66" y="126.7" width="1.8" height="8.3" fill="#ef5350"/><rect x="369.20" y="123.3" width="1.8" height="11.4" fill="#26a69a"/><rect x="371.74" y="112.3" width="1.8" height="11.4" fill="#26a69a"/><rect x="374.28" y="112.3" width="1.8" height="16.0" fill="#ef5350"/><rect x="376.82" y="126.0" width="1.8" height="2.3" fill="#26a69a"/><rect x="379.36" y="125.4" width="1.8" height="8.9" fill="#ef5350"/><rect x="381.90" y="133.0" width="1.8" height="10.0" fill="#ef5350"/><rect x="384.44" y="142.3" width="1.8" height="16.0" fill="#ef5350"/><rect x="386.97" y="149.0" width="1.8" height="9.3" fill="#26a69a"/><rect x="389.51" y="148.3" width="1.8" height="3.4" fill="#26a69a"/><rect x="392.05" y="149.0" width="1.8" height="15.3" fill="#ef5350"/><rect x="394.59" y="156.3" width="1.8" height="9.4" fill="#26a69a"/><rect x="397.13" y="153.5" width="1.8" height="4.0" fill="#ef5350"/><rect x="399.67" y="151.0" width="1.8" height="5.3" fill="#26a69a"/><rect x="402.21" y="145.0" width="1.8" height="6.0" fill="#26a69a"/><rect x="404.75" y="145.0" width="1.8" height="6.7" fill="#ef5350"/><rect x="407.29" y="150.0" width="1.8" height="3.0" fill="#26a69a"/><rect x="409.83" y="150.3" width="1.8" height="17.4" fill="#ef5350"/><rect x="412.37" y="167.0" width="1.8" height="10.7" fill="#ef5350"/><rect x="414.91" y="171.0" width="1.8" height="6.7" fill="#26a69a"/><rect x="417.45" y="169.7" width="1.8" height="2.6" fill="#ef5350"/><rect x="419.99" y="172.3" width="1.8" height="11.4" fill="#ef5350"/><rect x="422.53" y="183.7" width="1.8" height="12.6" fill="#ef5350"/><rect x="425.07" y="183.7" width="1.8" height="12.0" fill="#26a69a"/><rect x="427.61" y="183.0" width="1.8" height="12.0" fill="#ef5350"/><rect x="430.15" y="191.0" width="1.8" height="3.3" fill="#26a69a"/><rect x="432.69" y="185.0" width="1.8" height="6.0" fill="#26a69a"/><rect x="435.23" y="185.0" width="1.8" height="2.7" fill="#ef5350"/><rect x="437.76" y="180.3" width="1.8" height="5.4" fill="#26a69a"/><rect x="440.30" y="180.0" width="1.8" height="5.3" fill="#ef5350"/><rect x="442.84" y="184.0" width="1.8" height="5.3" fill="#ef5350"/><rect x="445.38" y="182.7" width="1.8" height="6.0" fill="#26a69a"/><rect x="447.92" y="178.7" width="1.8" height="4.7" fill="#26a69a"/><rect x="450.46" y="174.9" width="1.8" height="4.4" fill="#26a69a"/><rect x="453.00" y="175.3" width="1.8" height="9.3" fill="#ef5350"/><rect x="455.54" y="183.3" width="1.8" height="7.3" fill="#ef5350"/><rect x="458.08" y="182.7" width="1.8" height="8.7" fill="#26a69a"/><rect x="460.62" y="183.3" width="1.8" height="4.7" fill="#ef5350"/><rect x="463.16" y="180.7" width="1.8" height="6.7" fill="#26a69a"/><rect x="465.70" y="166.0" width="1.8" height="14.7" fill="#26a69a"/><rect x="468.24" y="158.0" width="1.8" height="8.7" fill="#26a69a"/><rect x="470.78" y="158.0" width="1.8" height="4.7" fill="#ef5350"/><rect x="473.32" y="162.0" width="1.8" height="13.3" fill="#ef5350"/><rect x="475.86" y="174.7" width="1.8" height="4.0" fill="#ef5350"/><rect x="478.40" y="170.7" width="1.8" height="8.0" fill="#26a69a"/><rect x="480.94" y="170.0" width="1.8" height="3.3" fill="#ef5350"/><rect x="483.48" y="166.7" width="1.8" height="6.7" fill="#26a69a"/><rect x="486.02" y="167.3" width="1.8" height="3.3" fill="#ef5350"/><rect x="488.56" y="166.7" width="1.8" height="4.7" fill="#26a69a"/><rect x="491.09" y="164.0" width="1.8" height="3.3" fill="#26a69a"/><rect x="493.63" y="164.0" width="1.8" height="6.7" fill="#ef5350"/><rect x="496.17" y="170.0" width="1.8" height="20.0" fill="#ef5350"/><rect x="498.71" y="182.7" width="1.8" height="6.7" fill="#26a69a"/><rect x="501.25" y="178.7" width="1.8" height="8.0" fill="#26a69a"/><rect x="503.79" y="178.7" width="1.8" height="2.7" fill="#ef5350"/><rect x="506.33" y="180.7" width="1.8" height="6.7" fill="#ef5350"/><rect x="508.87" y="178.0" width="1.8" height="8.0" fill="#26a69a"/><rect x="511.41" y="174.0" width="1.8" height="7.3" fill="#26a69a"/><rect x="513.95" y="164.7" width="1.8" height="9.3" fill="#26a69a"/><rect x="516.49" y="164.0" width="1.8" height="1.3" fill="#26a69a"/><rect x="519.03" y="163.3" width="1.8" height="1.3" fill="#26a69a"/><rect x="521.57" y="164.0" width="1.8" height="3.3" fill="#ef5350"/><rect x="524.11" y="166.0" width="1.8" height="2.0" fill="#26a69a"/><rect x="526.65" y="166.7" width="1.8" height="5.3" fill="#ef5350"/><rect x="529.19" y="170.0" width="1.8" height="6.0" fill="#26a69a"/><rect x="531.73" y="170.7" width="1.8" height="3.3" fill="#ef5350"/><rect x="534.27" y="172.7" width="1.8" height="14.4" fill="#ef5350"/><rect x="536.81" y="174.7" width="1.8" height="11.3" fill="#26a69a"/><rect x="539.35" y="164.7" width="1.8" height="14.7" fill="#26a69a"/><rect x="541.88" y="163.3" width="1.8" height="3.3" fill="#26a69a"/><rect x="544.42" y="152.0" width="1.8" height="13.3" fill="#26a69a"/><rect x="546.96" y="152.0" width="1.8" height="1.5" fill="#26a69a"/><rect x="549.50" y="152.0" width="1.8" height="6.0" fill="#ef5350"/><rect x="552.04" y="147.1" width="1.8" height="11.6" fill="#26a69a"/><rect x="554.58" y="147.3" width="1.8" height="4.0" fill="#ef5350"/><rect x="557.12" y="144.9" width="1.8" height="6.4" fill="#26a69a"/><rect x="559.66" y="144.9" width="1.8" height="3.5" fill="#ef5350"/><rect x="562.20" y="147.3" width="1.8" height="10.0" fill="#ef5350"/><rect x="564.74" y="154.7" width="1.8" height="2.7" fill="#26a69a"/><rect x="567.28" y="155.3" width="1.8" height="10.7" fill="#ef5350"/><rect x="569.82" y="156.7" width="1.8" height="9.3" fill="#26a69a"/><rect x="572.36" y="159.6" width="1.8" height="6.1" fill="#ef5350"/><rect x="574.90" y="159.1" width="1.8" height="6.7" fill="#26a69a"/><rect x="577.44" y="157.3" width="1.8" height="3.3" fill="#26a69a"/><rect x="579.98" y="156.7" width="1.8" height="3.3" fill="#ef5350"/><rect x="582.52" y="154.0" width="1.8" height="5.3" fill="#26a69a"/><rect x="585.06" y="152.0" width="1.8" height="2.0" fill="#26a69a"/><rect x="587.60" y="152.0" width="1.8" height="4.0" fill="#ef5350"/><rect x="590.13" y="156.0" width="1.8" height="2.0" fill="#ef5350"/><rect x="592.67" y="148.4" width="1.8" height="8.9" fill="#26a69a"/><rect x="595.21" y="145.3" width="1.8" height="3.3" fill="#26a69a"/><rect x="597.75" y="144.9" width="1.8" height="3.1" fill="#ef5350"/><rect x="600.29" y="146.7" width="1.8" height="1.1" fill="#26a69a"/><rect x="602.83" y="146.7" width="1.8" height="4.7" fill="#ef5350"/><rect x="605.37" y="150.0" width="1.8" height="2.0" fill="#26a69a"/><rect x="607.91" y="118.7" width="1.8" height="32.0" fill="#26a69a"/><rect x="610.45" y="108.0" width="1.8" height="12.0" fill="#26a69a"/><rect x="612.99" y="106.0" width="1.8" height="2.7" fill="#26a69a"/><rect x="615.53" y="93.7" width="1.8" height="13.0" fill="#26a69a"/><rect x="618.07" y="91.0" width="1.8" height="4.0" fill="#26a69a"/><rect x="620.61" y="89.0" width="1.8" height="2.7" fill="#26a69a"/><rect x="623.15" y="89.7" width="1.8" height="9.8" fill="#ef5350"/><rect x="625.69" y="95.0" width="1.8" height="5.0" fill="#26a69a"/><rect x="628.23" y="95.0" width="1.8" height="2.3" fill="#ef5350"/><rect x="630.77" y="91.0" width="1.8" height="6.8" fill="#26a69a"/><rect x="633.31" y="71.0" width="1.8" height="21.3" fill="#26a69a"/><rect x="635.85" y="64.7" width="1.8" height="6.3" fill="#26a69a"/><rect x="638.39" y="64.3" width="1.8" height="20.0" fill="#ef5350"/><rect x="640.93" y="83.0" width="1.8" height="2.7" fill="#ef5350"/><rect x="643.46" y="83.7" width="1.8" height="16.6" fill="#ef5350"/><rect x="646.00" y="99.3" width="1.8" height="6.7" fill="#ef5350"/><rect x="648.54" y="105.3" width="1.8" height="13.4" fill="#ef5350"/><rect x="651.08" y="108.7" width="1.8" height="9.3" fill="#26a69a"/><rect x="653.62" y="107.3" width="1.8" height="4.7" fill="#ef5350"/><rect x="656.16" y="109.3" width="1.8" height="10.0" fill="#ef5350"/><rect x="658.70" y="113.3" width="1.8" height="5.4" fill="#26a69a"/><rect x="661.24" y="112.7" width="1.8" height="6.6" fill="#ef5350"/><rect x="663.78" y="106.7" width="1.8" height="12.0" fill="#26a69a"/><rect x="666.32" y="108.0" width="1.8" height="7.3" fill="#ef5350"/><rect x="668.86" y="114.0" width="1.8" height="12.7" fill="#ef5350"/><rect x="671.40" y="125.3" width="1.8" height="3.4" fill="#ef5350"/><rect x="673.94" y="124.4" width="1.8" height="4.3" fill="#26a69a"/><rect x="676.48" y="114.0" width="1.8" height="11.0" fill="#26a69a"/><rect x="679.02" y="113.0" width="1.8" height="1.7" fill="#26a69a"/><rect x="681.56" y="112.0" width="1.8" height="2.7" fill="#26a69a"/></g>
<line x1="6" x2="710" y1="112.6" y2="112.6" stroke="#26a69a" stroke-width="0.8" stroke-dasharray="0.95 0.95" opacity="0.62"/>
<g font-size="7.6" fill="#33363f" stroke="#33363f" stroke-width="0.12"><text x="30.8" y="403.6" textLength="17.6" lengthAdjust="spacingAndGlyphs">12:00</text><text x="96.6" y="403.6" textLength="7.8" lengthAdjust="spacingAndGlyphs">28</text><text x="152.7" y="403.6" textLength="17.6" lengthAdjust="spacingAndGlyphs">12:00</text><text x="219.3" y="403.6" textLength="7.8" lengthAdjust="spacingAndGlyphs">29</text><text x="275.3" y="403.6" textLength="17.6" lengthAdjust="spacingAndGlyphs">12:00</text><text x="341.1" y="403.6" textLength="7.8" lengthAdjust="spacingAndGlyphs">30</text><text x="396.8" y="403.6" textLength="17.6" lengthAdjust="spacingAndGlyphs">12:00</text><text x="462.7" y="403.6" textLength="7.8" lengthAdjust="spacingAndGlyphs">31</text><text x="519.3" y="403.6" textLength="17.6" lengthAdjust="spacingAndGlyphs">12:00</text><text x="582.6" y="403.6" textLength="12.5" lengthAdjust="spacingAndGlyphs" stroke="#33363f" stroke-width="0.25">Nov</text><text x="641.1" y="403.6" textLength="17.6" lengthAdjust="spacingAndGlyphs">12:00</text><text x="691.7" y="403.6" textLength="17.6" lengthAdjust="spacingAndGlyphs">22:00</text></g>
<g font-size="7.9" fill="#3a3d45" stroke="#3a3d45" stroke-width="0.22"><text x="715.9" y="391.2" textLength="22.2" lengthAdjust="spacingAndGlyphs">0.0500</text><text x="715.9" y="360.5" textLength="22.2" lengthAdjust="spacingAndGlyphs">0.0600</text><text x="715.9" y="329.8" textLength="22.2" lengthAdjust="spacingAndGlyphs">0.0700</text><text x="715.9" y="299.1" textLength="22.2" lengthAdjust="spacingAndGlyphs">0.0800</text><text x="715.9" y="268.4" textLength="22.2" lengthAdjust="spacingAndGlyphs">0.0900</text><text x="715.9" y="237.7" textLength="22.2" lengthAdjust="spacingAndGlyphs">0.1000</text><text x="715.9" y="207.0" textLength="22.2" lengthAdjust="spacingAndGlyphs">0.1100</text><text x="715.9" y="176.3" textLength="22.2" lengthAdjust="spacingAndGlyphs">0.1200</text><text x="715.9" y="145.6" textLength="22.2" lengthAdjust="spacingAndGlyphs">0.1300</text><text x="715.9" y="114.9" textLength="22.2" lengthAdjust="spacingAndGlyphs">0.1400</text><text x="715.9" y="84.2" textLength="22.2" lengthAdjust="spacingAndGlyphs">0.1500</text><text x="715.9" y="53.5" textLength="22.2" lengthAdjust="spacingAndGlyphs">0.1600</text><text x="716" y="27.5" textLength="12.6" lengthAdjust="spacingAndGlyphs">USD</text></g>
<rect x="710" y="107.3" width="31.6" height="19.2" rx="1" fill="#26a69a"/>
<text x="715.9" y="115.4" font-size="7.9" fill="#fff" stroke="#fff" stroke-width="0.2" textLength="22.2" lengthAdjust="spacingAndGlyphs">0.1399</text>
<text x="715.9" y="123.6" font-size="7.9" fill="#e8f5f3" textLength="18.5" lengthAdjust="spacingAndGlyphs">09:58</text>
<rect x="710" y="126.2" width="31.6" height="10" rx="1" fill="#5e35b1"/>
<text x="715.9" y="134.1" font-size="7.9" fill="#fff" stroke="#fff" stroke-width="0.2" textLength="22.2" lengthAdjust="spacingAndGlyphs">0.1392</text>
<g fill="#1e222d"><path d="M6.2 416.8h5.6v5.9h-3v-3.7h-2.6z"/><circle cx="13.2" cy="417.9" r="0.95"/><path d="M15.3 416.8h2.9l-2.7 5.9h-2.8z"/></g>
<text x="20.5" y="422.6" font-size="8.0" fill="#484b54" textLength="42.3" lengthAdjust="spacingAndGlyphs">TradingView</text>
</svg>
</body></html>
